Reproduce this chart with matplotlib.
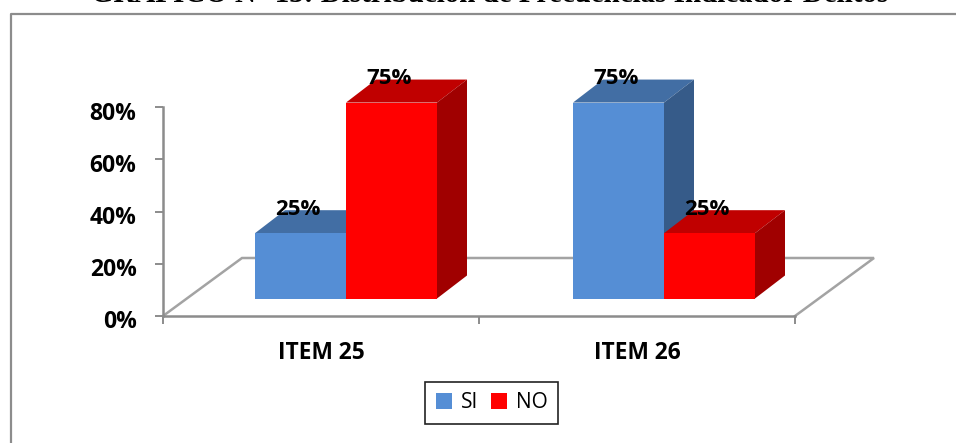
"""
Grafico 13: SI / NO frequencies for items 25 and 26, drawn as fake 3D bars.
Saves out.png
"""
import matplotlib
matplotlib.use("Agg")
import matplotlib.pyplot as plt
from matplotlib.lines import Line2D
from matplotlib.patches import Patch, Polygon
from matplotlib.transforms import ScaledTranslation

TITLE = "GRÁFICO N° 13: Distribución de Frecuencias Indicador Delitos"
CATEGORIES = ["ITEM 25", "ITEM 26"]
SERIES = ["SI", "NO"]
SI_VALUES = [25, 75]
NO_VALUES = [75, 25]
Y_TICKS = [0, 20, 40, 60, 80]

W, H = 956, 443
AX_LEFT, AX_RIGHT, AX_TOP, AX_BOTTOM = 163, 795, 107, 316  # pixels
PX_X = (AX_RIGHT - AX_LEFT) / 2   # pixels per category
PX_Y = (AX_BOTTOM - AX_TOP) / 80  # pixels per percent

FONT = "Open Sans"
GREY = "#8c8c8c"
COLORS = {
    "SI": ("#558ed5", "#426ea4", "#365b89"),
    "NO": ("#ff0000", "#c00000", "#a00000"),
}
BAR_W = 91 / PX_X
GROUP_STEP = 318 / PX_X
SHIFT_X, SHIFT_Y = 25 / PX_X, 17.5 / PX_Y   # bar front vs axis front
DEPTH_X, DEPTH_Y = 30 / PX_X, 23 / PX_Y     # bar depth
FLOOR_X, FLOOR_Y = 79 / PX_X, 58 / PX_Y     # floor depth


def draw_bar(ax, x, value, colors):
    front, top, side = colors
    x0, x1 = x, x + BAR_W
    y0, y1 = SHIFT_Y, SHIFT_Y + value
    ax.add_patch(Polygon([(x0, y1), (x1, y1), (x1 + DEPTH_X, y1 + DEPTH_Y), (x0 + DEPTH_X, y1 + DEPTH_Y)],
                         facecolor=top, edgecolor="none", clip_on=False, zorder=3))
    ax.add_patch(Polygon([(x1, y0), (x1 + DEPTH_X, y0 + DEPTH_Y), (x1 + DEPTH_X, y1 + DEPTH_Y), (x1, y1)],
                         facecolor=side, edgecolor="none", clip_on=False, zorder=3))
    ax.bar(x0, value, width=BAR_W, bottom=y0, align="edge", color=front, clip_on=False, zorder=3)
    ax.text(x0 + BAR_W / 2 - 2.5 / PX_X, y1 + 24 / PX_Y, f"{value}%", ha="center", va="center",
            fontsize=16, fontweight="bold", family=FONT, color="black", zorder=5)


fig = plt.figure(figsize=(W / 100, H / 100), dpi=100, facecolor="white")
ax = fig.add_axes([AX_LEFT / W, 1 - AX_BOTTOM / H, (AX_RIGHT - AX_LEFT) / W, (AX_BOTTOM - AX_TOP) / H])
ax.set_xlim(0, 2)
ax.set_ylim(0, 80)
ax.patch.set_visible(False)

# floor
ax.plot([0, FLOOR_X, 2 + FLOOR_X, 2], [0, FLOOR_Y, FLOOR_Y, 0], color="#a3a3a3", lw=1.8,
        clip_on=False, zorder=1, solid_joinstyle="miter")

for i in range(len(CATEGORIES)):
    left = i * GROUP_STEP + 0.5 + SHIFT_X - BAR_W
    draw_bar(ax, left, SI_VALUES[i], COLORS["SI"])
    draw_bar(ax, left + BAR_W, NO_VALUES[i], COLORS["NO"])

for s in ("top", "right"):
    ax.spines[s].set_visible(False)
for s in ("left", "bottom"):
    ax.spines[s].set_color(GREY)
    ax.spines[s].set_linewidth(1.8)
    ax.spines[s].set_zorder(2)

ax.set_yticks(Y_TICKS)
ax.set_yticklabels([f"{v}%" for v in Y_TICKS], fontsize=16.5, fontweight="bold", family=FONT)
ax.tick_params(axis="y", length=6, width=1.4, color=GREY, pad=13)
for lab in ax.get_yticklabels():
    lab.set_transform(lab.get_transform() + ScaledTranslation(0, -3.5 / 100, fig.dpi_scale_trans))
ax.set_xticks([0, 1, 2])
ax.set_xticklabels([])
ax.tick_params(axis="x", which="major", length=6, width=1.4, color=GREY)
ax.set_xticks([0.5, 1.5], minor=True)
ax.set_xticklabels(CATEGORIES, minor=True, fontsize=16.4, fontweight="bold", family=FONT)
ax.tick_params(axis="x", which="minor", length=0, pad=18)

# outer frame, only left and top are visible in the source
fig.add_artist(Line2D([10.5 / W, 10.5 / W, 1], [0, 1 - 13.5 / H, 1 - 13.5 / H], color=GREY, lw=1.6))

fig.text(490 / W, 1 - 2.5 / H, TITLE, ha="center", va="baseline", fontsize=20.9, fontweight="bold",
         family="Liberation Serif", color="black")

handles = [Patch(facecolor=COLORS[s][0], edgecolor="none", label=s) for s in SERIES]
leg = fig.legend(handles=handles, loc="center", bbox_to_anchor=(491.5 / W, 1 - 403 / H), ncol=2,
                 frameon=True, fancybox=False, edgecolor="#222222", framealpha=1,
                 prop={"family": FONT, "size": 15}, handlelength=0.8, handleheight=0.8,
                 handletextpad=0.4, columnspacing=0.6, borderpad=0.5, borderaxespad=0)
leg.get_frame().set_linewidth(1.2)

fig.savefig("out.png", dpi=100, facecolor="white")
